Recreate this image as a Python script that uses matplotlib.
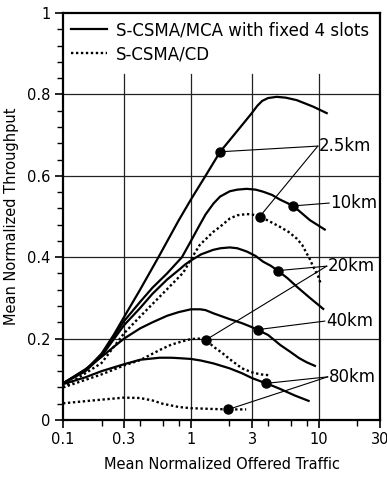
import matplotlib
matplotlib.use("Agg")
from matplotlib import pyplot as plt
from matplotlib.ticker import FixedLocator, NullFormatter
import numpy as np

plt.rcParams['font.family'] = ['DejaVu Sans']

# S-CSMA/MCA with fixed 4 slots (solid)
mca_25_x = [0.1, 0.15, 0.2, 0.25, 0.3, 0.4, 0.557, 0.8, 1.0, 1.3, 1.69, 2.27, 2.97, 3.3, 3.6, 4.0, 4.67, 5.5, 6.69, 9.0, 11.5]
mca_25_y = [0.09, 0.122, 0.163, 0.21, 0.253, 0.32, 0.40, 0.49, 0.542, 0.60, 0.659, 0.708, 0.753, 0.772, 0.784, 0.791, 0.794, 0.792, 0.786, 0.77, 0.754]
mca_10_x = [0.1, 0.15, 0.2, 0.3, 0.4, 0.5, 0.65, 0.85, 1.0, 1.15, 1.3, 1.5, 1.69, 2.01, 2.3, 2.73, 3.2, 3.66, 4.3, 4.93, 6.3, 8.5, 11.1]
mca_10_y = [0.09, 0.123, 0.16, 0.243, 0.29, 0.325, 0.36, 0.40, 0.44, 0.475, 0.505, 0.532, 0.549, 0.562, 0.566, 0.568, 0.566, 0.561, 0.553, 0.542, 0.526, 0.491, 0.468]
mca_20_x = [0.1, 0.15, 0.2, 0.3, 0.4, 0.5, 0.65, 0.82, 0.9, 1.0, 1.2, 1.49, 1.7, 2.01, 2.3, 2.73, 3.2, 3.66, 4.2, 4.77, 5.7, 6.69, 8.5, 10.8]
mca_20_y = [0.09, 0.12, 0.157, 0.233, 0.275, 0.31, 0.345, 0.371, 0.382, 0.392, 0.407, 0.418, 0.422, 0.424, 0.422, 0.414, 0.403, 0.389, 0.379, 0.367, 0.348, 0.328, 0.30, 0.273]
mca_40_x = [0.1, 0.15, 0.2, 0.25, 0.3, 0.4, 0.5, 0.65, 0.8, 1.0, 1.18, 1.3, 1.5, 2.0, 2.5, 3.0, 4.0, 5.0, 6.0, 7.0, 8.0, 9.3]
mca_40_y = [0.09, 0.125, 0.155, 0.18, 0.2, 0.225, 0.24, 0.256, 0.265, 0.272, 0.272, 0.27, 0.262, 0.248, 0.238, 0.228, 0.209, 0.184, 0.167, 0.152, 0.142, 0.133]
mca_80_x = [0.1, 0.15, 0.2, 0.3, 0.4, 0.57, 0.7, 0.8, 1.0, 1.2, 1.5, 2.0, 2.5, 3.0, 3.86, 4.5, 5.0, 6.5, 8.3]
mca_80_y = [0.088, 0.105, 0.12, 0.137, 0.148, 0.153, 0.153, 0.152, 0.15, 0.146, 0.139, 0.127, 0.115, 0.103, 0.09, 0.082, 0.076, 0.06, 0.047]

# S-CSMA/CD (dotted)
cd_25_x = [0.1, 0.2, 0.3, 0.4, 0.57, 0.87, 1.0, 1.17, 1.49, 1.69, 2.01, 2.3, 2.73, 3.0, 3.45, 4.0, 4.93, 5.8, 6.69, 7.4, 8.0, 8.5, 9.0, 9.9, 10.4]
cd_25_y = [0.08, 0.14, 0.213, 0.254, 0.303, 0.362, 0.395, 0.43, 0.462, 0.475, 0.495, 0.503, 0.506, 0.505, 0.50, 0.49, 0.475, 0.462, 0.446, 0.43, 0.41, 0.395, 0.377, 0.352, 0.332]
cd_20_x = [0.1, 0.2, 0.3, 0.4, 0.57, 0.7, 0.85, 1.0, 1.15, 1.31, 1.5, 1.75, 2.0, 2.5, 3.0, 3.5, 4.1]
cd_20_y = [0.08, 0.112, 0.134, 0.147, 0.172, 0.185, 0.193, 0.199, 0.2, 0.197, 0.18, 0.165, 0.15, 0.127, 0.117, 0.112, 0.11]
cd_80_x = [0.1, 0.2, 0.3, 0.4, 0.5, 0.6, 0.8, 1.0, 1.5, 2.0, 2.7]
cd_80_y = [0.041, 0.05, 0.055, 0.054, 0.048, 0.04, 0.032, 0.029, 0.027, 0.026, 0.026]

# labelled points
labels = ['2.5km', '10km', '20km', '40km', '80km']
marker_x = [[1.685, 3.45], [6.3], [4.77, 1.31], [3.32], [3.86, 1.96]]
marker_y = [[0.659, 0.50], [0.526], [0.367, 0.197], [0.222], [0.09, 0.026]]
label_x = [9.8, 12.0, 11.5, 11.1, 11.7]
label_y = [0.673, 0.533, 0.378, 0.243, 0.106]

fig = plt.figure(figsize=(3.87, 4.79), dpi=100)
ax = fig.add_axes([63 / 387, 59 / 479, 317 / 387, 407 / 479])

ax.set_xscale('log')
ax.set_xlim(0.1, 30)
ax.set_ylim(0, 1)

# grid, stopping under the legend
for gx in [0.3, 1, 3, 10]:
    ax.axvline(gx, ymax=0.85, color='#222222', lw=0.9, zorder=1)
for gy in [0.2, 0.4, 0.6, 0.8]:
    ax.axhline(gy, color='#222222', lw=0.9, zorder=1)

lw = 1.6
dot = dict(lw=1.7, linestyle=(0, (1, 1.1)), dash_capstyle='butt', color='black')
ax.plot(mca_25_x, mca_25_y, color='black', lw=lw, label='S-CSMA/MCA with fixed 4 slots')
ax.plot(mca_10_x, mca_10_y, color='black', lw=lw)
ax.plot(mca_20_x, mca_20_y, color='black', lw=lw)
ax.plot(mca_40_x, mca_40_y, color='black', lw=lw)
ax.plot(mca_80_x, mca_80_y, color='black', lw=lw)
ax.plot(cd_25_x, cd_25_y, label='S-CSMA/CD', **dot)
ax.plot(cd_20_x, cd_20_y, **dot)
ax.plot(cd_80_x, cd_80_y, **dot)

for lab, mx, my, lx, ly in zip(labels, marker_x, marker_y, label_x, label_y):
    for px, py in zip(mx, my):
        ax.plot([px, lx], [py, ly], color='black', lw=0.8, zorder=3)
    ax.plot(mx, my, 'o', color='black', ms=6.5, zorder=4)
    ax.text(lx * 1.02, ly, lab, fontsize=12, va='center', ha='left', zorder=5)

ax.xaxis.set_major_locator(FixedLocator([0.1, 0.3, 1, 3, 10, 30]))
ax.set_xticklabels(['0.1', '0.3', '1', '3', '10', '30'])
ax.xaxis.set_minor_locator(FixedLocator([0.2, 0.4, 0.6, 0.8, 2, 4, 6, 8, 20]))
ax.xaxis.set_minor_formatter(NullFormatter())
ax.set_yticks([0, 0.2, 0.4, 0.6, 0.8, 1])
ax.set_yticklabels(['0', '0.2', '0.4', '0.6', '0.8', '1'])
ax.yaxis.set_minor_locator(FixedLocator(np.arange(0, 1.001, 0.04)))

ax.tick_params(which='major', direction='out', length=6, width=1.2, labelsize=10.5, pad=3)
ax.tick_params(which='minor', direction='out', length=4.5, width=1.0)
for s in ax.spines.values():
    s.set_linewidth(1.6)

ax.set_xlabel('Mean Normalized Offered Traffic', fontsize=10.5, labelpad=7)
ax.set_ylabel('Mean Normalized Throughput', fontsize=10.5, labelpad=6)

ax.legend(loc='upper left', frameon=False, fontsize=12, handlelength=2.15,
          handletextpad=0.5, borderaxespad=0.2, borderpad=0.3, labelspacing=0.35)

fig.savefig('out.png', dpi=100)
